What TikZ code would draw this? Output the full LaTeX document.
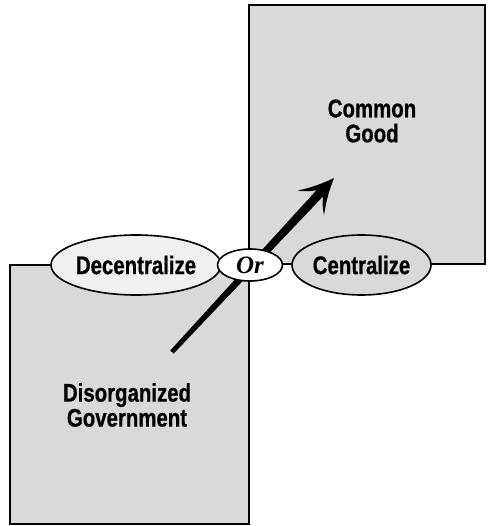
\documentclass[tikz,border=0pt]{standalone}
\usepackage{fontspec}
\setmainfont{Liberation Sans}
\newfontfamily\condfont[FakeStretch=0.8,FakeBold=0.6]{Liberation Sans}
\newfontfamily\orfont{Liberation Serif}
\usetikzlibrary{shapes.geometric,arrows.meta,calc}
\definecolor{boxgray}{HTML}{D9D9D9}
\definecolor{lightgray2}{HTML}{F0F0F0}
\tikzset{
  panel/.style={draw=black, line width=1.6pt, fill=boxgray, rectangle, inner sep=0pt},
  label/.style={font=\condfont\bfseries\fontsize{25.5}{25}\selectfont, align=center, inner sep=0pt},
  oval/.style={draw=black, line width=1.6pt, ellipse, inner sep=0pt,
    font=\condfont\bfseries\fontsize{25.5}{25}\selectfont},
  bigarrow/.style={fill=black, line join=round}
}
\begin{document}
\begin{tikzpicture}[x=1pt, y=-1pt]
\useasboundingbox (0,0) rectangle (492,526);
% boxes
\node[panel, minimum width=239pt, minimum height=259pt] (bl) at (129.5,394.5) {};
\node[panel, minimum width=236pt, minimum height=259pt] (tr) at (367,134.5) {};
% box texts
\node[label] (common) at (372,121) {Common\\Good};
\node[label] (disorg) at (127,405) {Disorganized\\Government};
% tapered arrow
\coordinate (tail) at (172,352);
\coordinate (tip) at (334,178);
\coordinate (t1) at ($(tail)!2.3pt!90:(tip)$);
\coordinate (t2) at ($(tail)!2.3pt!-90:(tip)$);
\coordinate (nk) at ($(tip)!21pt!(tail)$);
\coordinate (s1) at ($(nk)!4.5pt!90:(tip)$);
\coordinate (s2) at ($(nk)!4.5pt!-90:(tip)$);
\coordinate (hb) at ($(tip)!34pt!(tail)$);
\coordinate (b1) at ($(hb)!18pt!90:(tip)$);
\coordinate (b2) at ($(hb)!18pt!-90:(tip)$);
\fill[bigarrow] (t1) -- (s1) to[bend left=8] (b1) to[bend right=6] (tip)
  to[bend right=6] (b2) to[bend left=8] (s2) -- (t2) -- cycle;
% ovals
\node[oval, fill=lightgray2, minimum width=138pt, minimum height=60pt] (dec) at (136,265) {Decentralize};
\node[oval, fill=white, minimum width=65pt, minimum height=32pt, font=\orfont\bfseries\itshape\fontsize{25}{26}\selectfont] (or) at (250,265) {Or};
\node[oval, fill=boxgray, minimum width=139pt, minimum height=60pt] (cen) at (361.5,265) {Centralize};
\end{tikzpicture}
\end{document}
